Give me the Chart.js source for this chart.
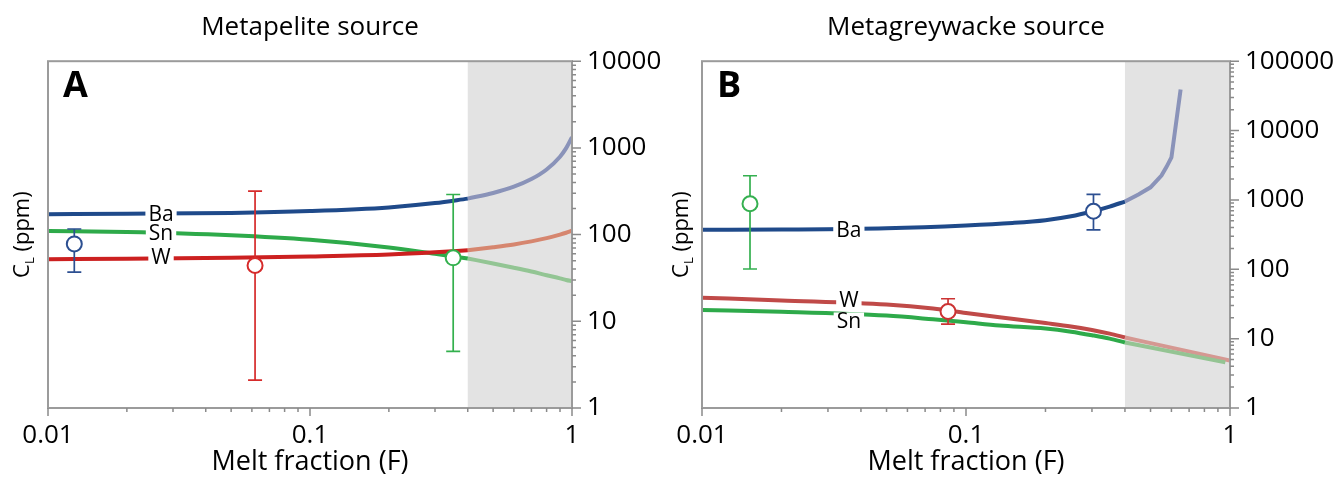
<!DOCTYPE html>
<html>
<head>
<meta charset="utf-8">
<script src="https://cdn.jsdelivr.net/npm/chart.js@4.4.1/dist/chart.umd.min.js"></script>
<style>
  html, body { margin: 0; padding: 0; background: #fff; }
  #wrap { position: relative; width: 1337px; height: 479px; }
  .panel { position: absolute; top: 0; }
  #panelA { left: 0; }
  #panelB { left: 668px; }
</style>
</head>
<body>
<div id="wrap">
  <div class="panel" id="panelA"><canvas id="chartA" width="668" height="479"></canvas></div>
  <div class="panel" id="panelB"><canvas id="chartB" width="669" height="479"></canvas></div>
</div>
<script>
// === DATA: panel A (metapelite source) ===
const fA_lo = [0.01, 0.02, 0.05, 0.1, 0.2, 0.3, 0.4];
const fA_hi = [0.4, 0.5, 0.6, 0.7, 0.8, 0.9, 0.95, 1.0];
const baA_lo = [172, 174, 178, 187, 206, 231, 260];
const baA_hi = [260, 302, 357, 437, 564, 792, 993, 1330];
const snA_lo = [110, 107, 98, 87, 71, 60, 53];
const snA_hi = [53, 46.5, 41.5, 37.5, 34, 31.3, 30, 29];
const wA_lo = [52, 52.5, 54, 56, 59, 62.5, 66];
const wA_hi = [66, 71.5, 77, 83.5, 91, 100, 105, 111];

const ptA_f = [0.0126, 0.0617, 0.352];
const ptA_val = [78, 44, 54];
const ptA_low = [37, 2.1, 4.5];
const ptA_high = [116, 318, 290];

const labelNamesA = ['Ba', 'Sn', 'W'];
const labelFA = [0.027, 0.027, 0.027];
const labelValA = [175, 103, 55];

// === DATA: panel B (metagreywacke source) ===
const fB_ba = [0.01, 0.02, 0.05, 0.1, 0.15, 0.2, 0.25, 0.3, 0.35, 0.4];
const baB_lo = [370, 374, 390, 428, 465, 510, 580, 680, 800, 948];
const fB_baHi = [0.4, 0.45, 0.5, 0.55, 0.575, 0.6, 0.65];
const baB_hi = [948, 1200, 1520, 2250, 3000, 4100, 39000];
const fB_wsn = [0.01, 0.02, 0.05, 0.075, 0.1, 0.134, 0.2, 0.25, 0.3, 0.35, 0.4];
const wB_lo = [39, 35.5, 31, 27.2, 23.5, 20.4, 16.8, 15, 13.3, 11.8, 10.4];
const snB_lo = [25.8, 24.4, 21.5, 19, 17.2, 15.5, 14, 12.6, 11.2, 10, 8.8];
const fB_wHi = [0.4, 1.0];
const wB_hi = [10.4, 4.85];
const fB_snHi = [0.4, 0.96];
const snB_hi = [8.8, 4.55];

const ptB_f = [0.0152, 0.0855, 0.304];
const ptB_val = [880, 24.6, 687];
const ptB_low = [101, 16.2, 370];
const ptB_high = [2230, 37.6, 1200];

const labelNamesB = ['Ba', 'W', 'Sn'];
const labelFB = [0.036, 0.036, 0.036];
const labelValB = [372, 36.4, 17.7];

// axis labels
const xTickLabels = ['0.01', '0.1', '1'];
const yTickLabelsA = ['1', '10', '100', '1000', '10000'];
const yTickLabelsB = ['1', '10', '100', '1000', '10000', '100000'];
const shadeFrom = 0.4;

const FONT = "'Open Sans', 'Noto Sans', sans-serif";
Chart.defaults.font.family = FONT;
Chart.defaults.color = '#000';

function toXY(xs, ys) {
    return xs.map((x, i) => ({ x: x, y: ys[i] }));
}

// 1..9 x 10^k tick positions for a log axis
function logTicks(min, max) {
    const out = [];
    for (let e = Math.round(Math.log10(min)); e < Math.round(Math.log10(max)); e++) {
        for (let m = 1; m < 10; m++) out.push({ value: m * Math.pow(10, e) });
    }
    out.push({ value: max });
    return out;
}

function isDecade(v) {
    const e = Math.log10(v);
    return Math.abs(e - Math.round(e)) < 1e-6;
}

function tickLabel(v, labels, firstExp) {
    if (!isDecade(v)) return '';
    return labels[Math.round(Math.log10(v)) - firstExp] || '';
}

// gray band for F > 0.4
const shadePlugin = {
    id: 'shade',
    beforeDatasetsDraw(chart) {
        const { ctx, chartArea: a, scales } = chart;
        const x0 = scales.x.getPixelForValue(shadeFrom);
        ctx.save();
        ctx.fillStyle = '#e3e3e3';
        ctx.fillRect(x0, a.top, a.right - x0, a.bottom - a.top);
        ctx.restore();
    }
};

// error bars, drawn just before the open circles
const errorBarPlugin = {
    id: 'errbars',
    beforeDatasetDraw(chart, args) {
        const ds = chart.data.datasets[args.index];
        if (!ds.errLow) return;
        const { ctx, scales } = chart;
        ctx.save();
        ctx.lineWidth = 1.7;
        ds.data.forEach((p, i) => {
            const x = scales.x.getPixelForValue(p.x);
            const y1 = scales.y.getPixelForValue(ds.errLow[i]);
            const y2 = scales.y.getPixelForValue(ds.errHigh[i]);
            ctx.strokeStyle = ds.pointBorderColor[i];
            ctx.beginPath();
            ctx.moveTo(x, y1); ctx.lineTo(x, y2);
            ctx.moveTo(x - 7, y1); ctx.lineTo(x + 7, y1);
            ctx.moveTo(x - 7, y2); ctx.lineTo(x + 7, y2);
            ctx.stroke();
        });
        ctx.restore();
    }
};

// frame, outward ticks, curve names, panel letter, y title
const decorPlugin = {
    id: 'decor',
    afterDatasetsDraw(chart, args, opts) {
        const { ctx, chartArea: a, scales } = chart;
        ctx.save();

        // curve names on white patches
        ctx.font = `21px ${FONT}`;
        ctx.textAlign = 'center';
        ctx.textBaseline = 'middle';
        opts.names.forEach((t, i) => {
            const px = scales.x.getPixelForValue(opts.namesF[i]);
            const py = scales.y.getPixelForValue(opts.namesV[i]);
            const w = ctx.measureText(t).width;
            ctx.fillStyle = '#fff';
            ctx.fillRect(px - w / 2 - 3, py - opts.boxH / 2, w + 6, opts.boxH);
            ctx.fillStyle = '#000';
            ctx.fillText(t, px, py + 1);
        });

        // frame
        ctx.strokeStyle = '#9b9b9b';
        ctx.lineWidth = 2;
        ctx.strokeRect(a.left, a.top, a.right - a.left, a.bottom - a.top);

        // ticks
        ctx.strokeStyle = '#8a8a8a';
        ctx.lineWidth = 1.5;
        ctx.beginPath();
        scales.x.ticks.forEach(t => {
            const px = scales.x.getPixelForValue(t.value);
            ctx.moveTo(px, a.bottom);
            ctx.lineTo(px, a.bottom + (isDecade(t.value) ? 8 : 4));
        });
        scales.y.ticks.forEach(t => {
            const py = scales.y.getPixelForValue(t.value);
            ctx.moveTo(a.right, py);
            ctx.lineTo(a.right + (isDecade(t.value) ? 9 : 4), py);
        });
        ctx.stroke();

        // panel letter
        ctx.fillStyle = '#000';
        ctx.font = `bold 36px ${FONT}`;
        ctx.textAlign = 'left';
        ctx.textBaseline = 'alphabetic';
        ctx.fillText(opts.letter, a.left + 15, 97);

        // C_L (ppm), rotated
        const cy = (a.top + a.bottom) / 2;
        ctx.translate(a.left - opts.yTitleGap, cy);
        ctx.rotate(-Math.PI / 2);
        ctx.font = `22px ${FONT}`;
        const wC = ctx.measureText('C').width;
        const wRest = ctx.measureText(' (ppm)').width;
        ctx.font = `13px ${FONT}`;
        const wL = ctx.measureText('L').width;
        let x0 = -(wC + wL + wRest) / 2;
        ctx.font = `22px ${FONT}`;
        ctx.fillText('C', x0, 0);
        ctx.font = `13px ${FONT}`;
        ctx.fillText('L', x0 + wC, 5);
        ctx.font = `22px ${FONT}`;
        ctx.fillText(' (ppm)', x0 + wC + wL, 0);
        ctx.restore();
    }
};

function lineSet(data, color, smooth = true) {
    return {
        data: data,
        borderColor: color,
        borderWidth: 4,
        pointRadius: 0,
        fill: false,
        cubicInterpolationMode: smooth ? 'monotone' : 'default',
        tension: 0,
        borderCapStyle: 'butt',
        order: 1
    };
}

function pointSet(xs, ys, lows, highs, colors) {
    return {
        data: toXY(xs, ys),
        showLine: false,
        pointRadius: 7.5,
        pointBorderWidth: 2,
        pointBackgroundColor: '#fff',
        pointBorderColor: colors,
        errLow: lows,
        errHigh: highs,
        order: 0
    };
}

function makeChart(canvasId, cfg) {
    return new Chart(document.getElementById(canvasId), {
        type: 'line',
        data: { datasets: cfg.datasets },
        options: {
            responsive: false,
            animation: false,
            layout: { padding: { left: cfg.padLeft, right: 0, top: 0, bottom: 0 } },
            plugins: {
                legend: { display: false },
                tooltip: { enabled: false },
                title: {
                    display: true,
                    text: cfg.title,
                    fullSize: false,
                    color: '#000',
                    font: { size: 26, weight: 'normal' },
                    padding: { top: 12, bottom: 18 }
                },
                decor: cfg.decor
            },
            scales: {
                x: {
                    type: 'logarithmic',
                    min: 0.01,
                    max: 1,
                    afterBuildTicks: s => { s.ticks = logTicks(0.01, 1); },
                    afterFit: s => { s.height = 71; },
                    grid: { drawOnChartArea: false, tickLength: 8, tickColor: 'rgba(0,0,0,0)' },
                    border: { display: false },
                    ticks: {
                        autoSkip: false,
                        maxRotation: 0,
                        padding: 4,
                        color: '#000',
                        font: { size: 26 },
                        callback: v => tickLabel(v, xTickLabels, -2)
                    },
                    title: {
                        display: true,
                        text: 'Melt fraction (F)',
                        color: '#000',
                        font: { size: 27 },
                        padding: { top: 0, bottom: 0 }
                    }
                },
                y: {
                    type: 'logarithmic',
                    position: 'right',
                    min: 1,
                    max: cfg.yMax,
                    afterBuildTicks: s => { s.ticks = logTicks(1, cfg.yMax); },
                    afterFit: s => { s.width = cfg.yWidth; },
                    grid: { drawOnChartArea: false, tickLength: 9, tickColor: 'rgba(0,0,0,0)' },
                    border: { display: false },
                    ticks: {
                        autoSkip: false,
                        padding: 6,
                        color: '#000',
                        font: { size: 26 },
                        callback: v => tickLabel(v, cfg.yLabels, 0)
                    }
                }
            }
        },
        plugins: [shadePlugin, errorBarPlugin, decorPlugin]
    });
}

// Panel A
makeChart('chartA', {
    title: 'Metapelite source',
    padLeft: 48,
    yMax: 10000,
    yWidth: 96,
    yLabels: yTickLabelsA,
    decor: { letter: 'A', names: labelNamesA, namesF: labelFA, namesV: labelValA, boxH: 16, yTitleGap: 19 },
    datasets: [
        lineSet(toXY(fA_lo, baA_lo), '#1f4a8a'),
        lineSet(toXY(fA_hi, baA_hi), '#8a93b9'),
        lineSet(toXY(fA_lo, wA_lo), '#cc2020'),
        lineSet(toXY(fA_hi, wA_hi), '#d6866f'),
        lineSet(toXY(fA_lo, snA_lo), '#2eaa4a'),
        lineSet(toXY(fA_hi, snA_hi), '#93c594'),
        pointSet(ptA_f, ptA_val, ptA_low, ptA_high, ['#2c4f91', '#d62b2b', '#33b04d'])
    ]
});

// Panel B
makeChart('chartB', {
    title: 'Metagreywacke source',
    padLeft: 34,
    yMax: 100000,
    yWidth: 107,
    yLabels: yTickLabelsB,
    decor: { letter: 'B', names: labelNamesB, namesF: labelFB, namesV: labelValB, boxH: 18, yTitleGap: 14 },
    datasets: [
        lineSet(toXY(fB_ba, baB_lo), '#1f4a8a'),
        lineSet(toXY(fB_baHi, baB_hi), '#8a93b9', false),
        lineSet(toXY(fB_wsn, snB_lo), '#2eaa4a'),
        lineSet(toXY(fB_snHi, snB_hi), '#94c493'),
        lineSet(toXY(fB_wsn, wB_lo), '#c04a48'),
        lineSet(toXY(fB_wHi, wB_hi), '#d59892'),
        pointSet(ptB_f, ptB_val, ptB_low, ptB_high, ['#35b050', '#cc3333', '#2c4f91'])
    ]
});
</script>
</body>
</html>
